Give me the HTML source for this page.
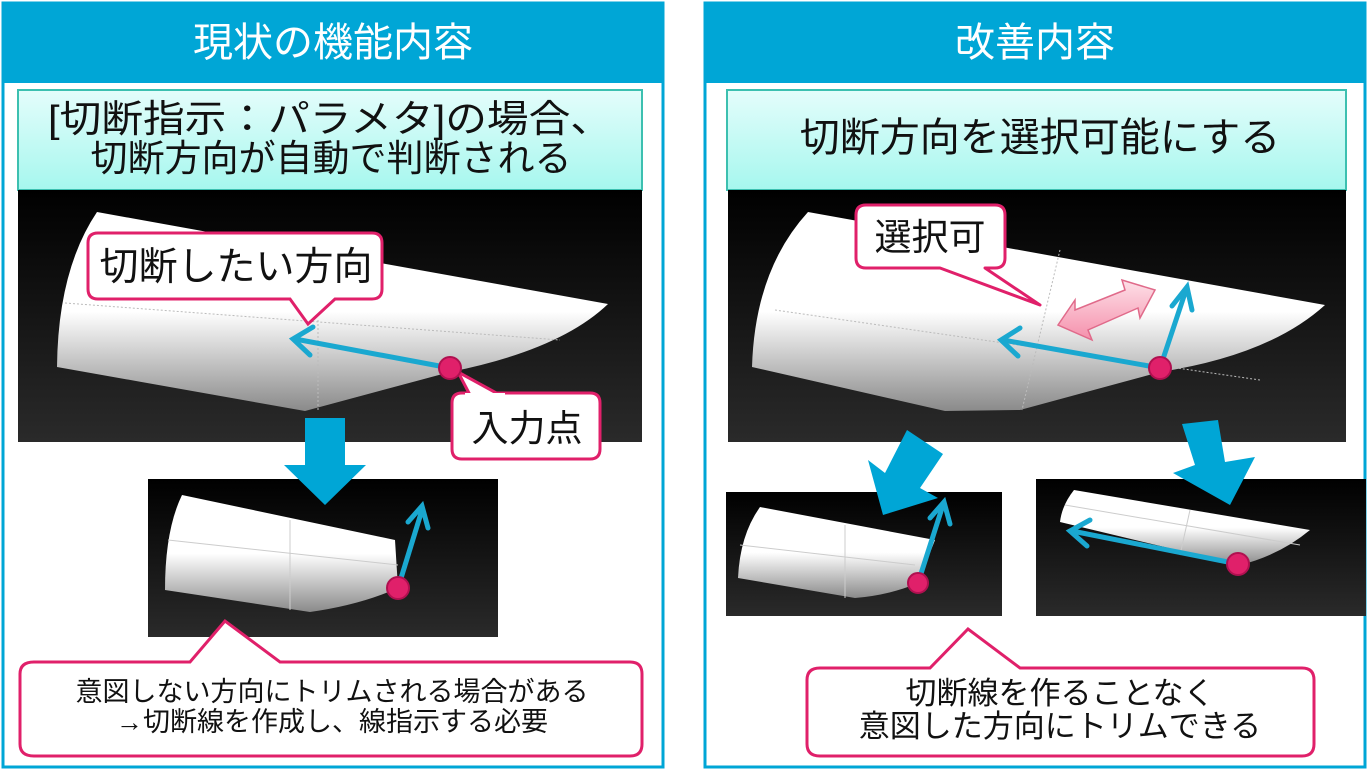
<!DOCTYPE html>
<html><head><meta charset="utf-8"><style>
html,body{margin:0;padding:0;background:#fff;}
svg text{font-family:"Liberation Sans","Noto Sans CJK JP",sans-serif;}
</style></head><body>
<svg width="1368" height="770" viewBox="0 0 1368 770" xmlns="http://www.w3.org/2000/svg">
<defs>
<linearGradient id="bg" x1="0" y1="0" x2="0" y2="1"><stop offset="0" stop-color="#000"/><stop offset="1" stop-color="#2a2a2a"/></linearGradient>
<linearGradient id="teal" x1="0" y1="0" x2="0" y2="1"><stop offset="0" stop-color="#e4fdfb"/><stop offset="1" stop-color="#a6f7ee"/></linearGradient>
<linearGradient id="wing" x1="0" y1="0" x2="0" y2="1"><stop offset="0" stop-color="#fff"/><stop offset="0.5" stop-color="#fff"/><stop offset="1" stop-color="#8a8a8a"/></linearGradient>
<linearGradient id="pk" x1="0" y1="0" x2="0" y2="1"><stop offset="0" stop-color="#fde0e8"/><stop offset="1" stop-color="#f590ac"/></linearGradient>
</defs>
<!-- panels -->
<rect x="3" y="3" width="660" height="764" fill="#fff" stroke="#00a6d6" stroke-width="3"/>
<rect x="3" y="3" width="660" height="80" fill="#00a6d6"/>
<text x="333" y="56" font-size="40" fill="#fff" text-anchor="middle">現状の機能内容</text>
<rect x="705" y="3" width="660" height="764" fill="#fff" stroke="#00a6d6" stroke-width="3"/>
<rect x="705" y="3" width="660" height="80" fill="#00a6d6"/>
<text x="1035" y="56" font-size="40" fill="#fff" text-anchor="middle">改善内容</text>

<!-- left -->
<rect x="18" y="90" width="624" height="100" fill="url(#teal)" stroke="#3cc0b0" stroke-width="2"/>
<text x="330" y="132" font-size="38" fill="#111" text-anchor="middle" textLength="564" lengthAdjust="spacingAndGlyphs">[切断指示：パラメタ]の場合、</text>
<text x="331" y="171" font-size="37" fill="#111" text-anchor="middle">切断方向が自動で判断される</text>
<rect x="18" y="190" width="624" height="252" fill="url(#bg)"/>
<path d="M97,212 L608,304 Q560,350 450,372 L305,411 L57,367 Q58,270 97,212 Z" fill="url(#wing)"/>
<path d="M65,303 L560,340 M318,320 L318,410" stroke="#bbb" stroke-width="1" stroke-dasharray="2,2" fill="none"/>
<line x1="450" y1="368" x2="295" y2="339" stroke="#1aa8d0" stroke-width="5"/>
<polyline points="313,327 293,339 310,355" fill="none" stroke="#1aa8d0" stroke-width="5" stroke-linecap="round"/>
<path d="M100,233 H372 Q382,233 382,243 V289 Q382,299 372,299 H335 L308,324 L290,299 H98 Q88,299 88,289 V243 Q88,233 98,233 Z" fill="#fff" stroke="#e0206a" stroke-width="3"/>
<text x="236" y="280" font-size="39" fill="#111" text-anchor="middle">切断したい方向</text>
<path d="M462,393 H590 Q600,393 600,403 V449 Q600,459 590,459 H462 Q452,459 452,449 V403 Q452,393 462,393 Z" fill="#fff" stroke="#e0206a" stroke-width="3"/>
<path d="M470,395 L458,372 L500,395 Z" fill="#fff" stroke="#e0206a" stroke-width="3" stroke-linejoin="round"/>
<rect x="465" y="393" width="40" height="6" fill="#fff"/>
<text x="527" y="441" font-size="37" fill="#111" text-anchor="middle">入力点</text>
<circle cx="450" cy="368" r="11" fill="#e0206a" stroke="#b01050" stroke-width="2"/>
<rect x="148" y="479" width="350" height="158" fill="url(#bg)"/>
<path d="M182,495 L395,540 L398,588 Q360,605 310,612 L165,590 Q165,530 182,495 Z" fill="url(#wing)"/>
<path d="M168,540 L398,565 M290,520 L290,610" stroke="#ccc" stroke-width="1" fill="none"/>
<line x1="398" y1="588" x2="422" y2="510" stroke="#1aa8d0" stroke-width="5"/>
<polyline points="408,522 422,506 428,528" fill="none" stroke="#1aa8d0" stroke-width="5" stroke-linecap="round"/>
<circle cx="398" cy="588" r="11" fill="#e0206a" stroke="#b01050" stroke-width="2"/>
<polygon points="305,418 345,418 345,465 366,465 325,505 284,465 305,465" fill="#00a6d6"/>
<path d="M34,662 H190 L225,621 L280,662 H630 Q642,662 642,674 V744 Q642,756 630,756 H34 Q20,756 20,744 V674 Q20,662 34,662 Z" fill="#fff" stroke="#e0206a" stroke-width="3"/>
<text x="332" y="701" font-size="27" fill="#111" text-anchor="middle">意図しない方向にトリムされる場合がある</text>
<text x="332" y="731" font-size="27" fill="#111" text-anchor="middle">→切断線を作成し、線指示する必要</text>

<!-- right -->
<rect x="727" y="90" width="619" height="100" fill="url(#teal)" stroke="#3cc0b0" stroke-width="2"/>
<text x="1040" y="151" font-size="40" fill="#111" text-anchor="middle">切断方向を選択可能にする</text>
<rect x="728" y="190" width="618" height="252" fill="url(#bg)"/>
<path d="M808,212 L1325,305 Q1270,355 1160,372 L1020,410 L945,411 L752,367 Q755,270 808,212 Z" fill="url(#wing)"/>
<path d="M775,310 L1260,380 M1060,250 L1022,410" stroke="#bbb" stroke-width="1" stroke-dasharray="2,2" fill="none"/>
<polygon points="1058,325 1075,300 1075,310 1125,290 1122,280 1155,290 1140,318 1138,308 1088,330 1092,340" fill="url(#pk)" stroke="#e06a8a" stroke-width="1.5"/>
<line x1="1160" y1="368" x2="1003" y2="340" stroke="#1aa8d0" stroke-width="5"/>
<polyline points="1020,328 1001,340 1018,356" fill="none" stroke="#1aa8d0" stroke-width="5" stroke-linecap="round"/>
<line x1="1160" y1="368" x2="1186" y2="290" stroke="#1aa8d0" stroke-width="5"/>
<polyline points="1172,306 1187,287 1192,310" fill="none" stroke="#1aa8d0" stroke-width="5" stroke-linecap="round"/>
<circle cx="1160" cy="368" r="11" fill="#e0206a" stroke="#b01050" stroke-width="2"/>
<path d="M866,205 H995 Q1005,205 1005,215 V258 Q1005,268 995,268 H985 L1040,305 L940,268 H866 Q856,268 856,258 V215 Q856,205 866,205 Z" fill="#fff" stroke="#e0206a" stroke-width="3" stroke-linejoin="round"/>
<text x="930" y="250" font-size="37" fill="#111" text-anchor="middle">選択可</text>
<rect x="726" y="492" width="276" height="124" fill="url(#bg)"/>
<path d="M760,507 L935,540 L918,583 Q890,595 855,598 L738,578 Q740,535 760,507 Z" fill="url(#wing)"/>
<path d="M740,545 L915,565 M845,525 L845,598" stroke="#ccc" stroke-width="1" fill="none"/>
<line x1="918" y1="583" x2="943" y2="505" stroke="#1aa8d0" stroke-width="5"/>
<polyline points="930,518 944,502 950,524" fill="none" stroke="#1aa8d0" stroke-width="5" stroke-linecap="round"/>
<circle cx="918" cy="583" r="10" fill="#e0206a" stroke="#b01050" stroke-width="2"/>
<rect x="1036" y="479" width="330" height="137" fill="url(#bg)"/>
<path d="M1074,490 L1310,530 Q1280,555 1240,565 L1060,522 Q1062,505 1074,490 Z" fill="url(#wing)"/>
<path d="M1065,505 L1300,545 M1190,510 L1180,555" stroke="#ccc" stroke-width="1" fill="none"/>
<line x1="1238" y1="564" x2="1072" y2="531" stroke="#1aa8d0" stroke-width="5"/>
<polyline points="1090,520 1070,531 1087,546" fill="none" stroke="#1aa8d0" stroke-width="5" stroke-linecap="round"/>
<circle cx="1238" cy="564" r="11" fill="#e0206a" stroke="#b01050" stroke-width="2"/>
<polygon points="907,430 943,454 920,488 938,498 883,515 868,460 885,473" fill="#00a6d6"/>
<polygon points="1182,424 1218,420 1225,462 1255,457 1230,505 1173,473 1195,465" fill="#00a6d6"/>
<path d="M820,668 H930 L968,629 L1020,668 H1302 Q1314,668 1314,680 V744 Q1314,756 1302,756 H820 Q807,756 807,744 V680 Q807,668 820,668 Z" fill="#fff" stroke="#e0206a" stroke-width="3"/>
<text x="1060" y="704" font-size="31" fill="#111" text-anchor="middle">切断線を作ることなく</text>
<text x="1060" y="737" font-size="31" fill="#111" text-anchor="middle">意図した方向にトリムできる</text>
</svg>
</body></html>
